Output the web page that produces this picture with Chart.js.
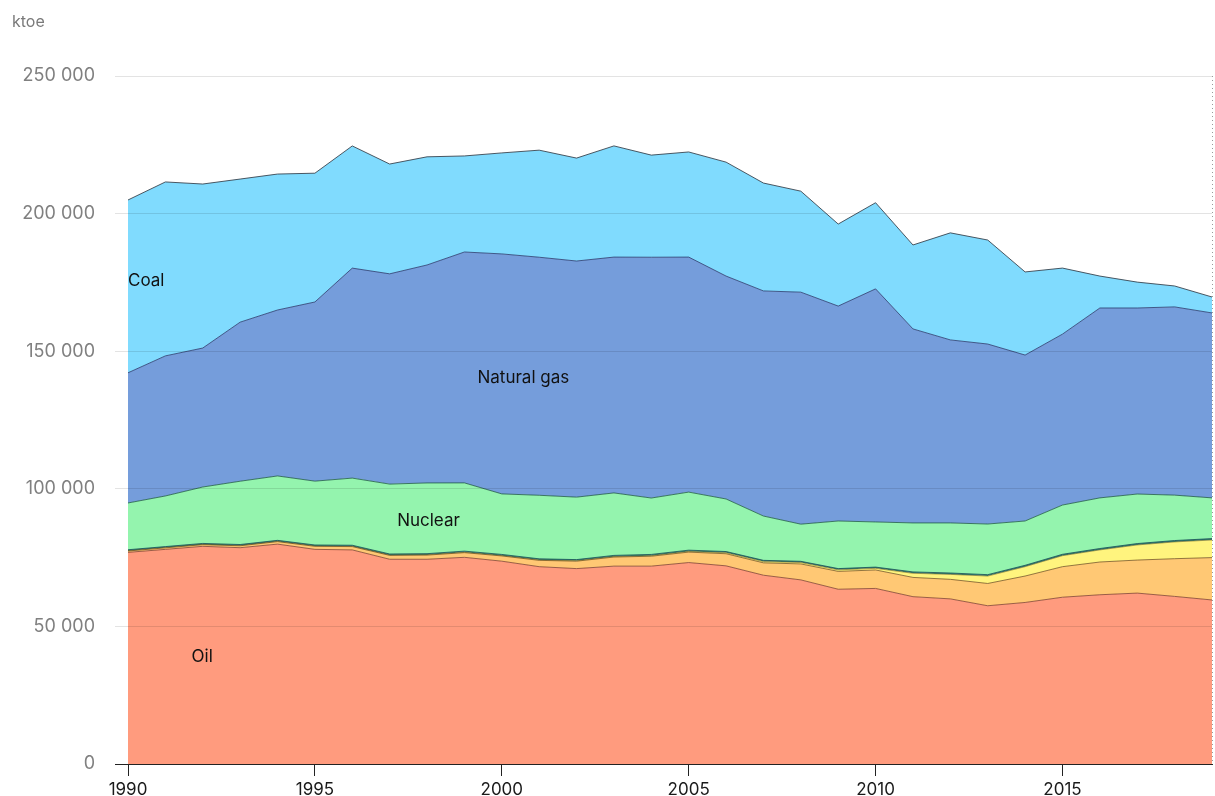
<!DOCTYPE html>
<html>
<head>
<meta charset="utf-8">
<script src="https://cdn.jsdelivr.net/npm/chart.js@4.4.1/dist/chart.umd.min.js"></script>
<style>
  html, body { margin: 0; padding: 0; background: #ffffff; }
  #wrap { width: 1215px; height: 796px; position: relative; }
</style>
</head>
<body>
<div id="wrap"><canvas id="c" width="1215" height="796"></canvas></div>
<script>
const years = [1990,1991,1992,1993,1994,1995,1996,1997,1998,1999,2000,2001,2002,2003,2004,2005,2006,2007,2008,2009,2010,2011,2012,2013,2014,2015,2016,2017,2018,2019];
const oil = [76900,78000,79100,78600,79900,78000,77800,74400,74400,75100,73700,71700,71000,71900,71900,73200,72000,68600,66900,63500,63800,60800,60000,57500,58700,60600,61500,62100,60900,59600];
const biofuels = [500,550,600,700,900,1100,1200,1400,1500,1700,1900,2300,2700,3300,3600,3800,4400,4500,5800,6500,6700,7000,7100,8100,9600,11100,11900,12000,13700,15400];
const windSolar = [0,0,0,0,20,30,40,60,80,100,100,100,120,150,200,250,350,450,500,550,600,1500,1800,2700,3400,4000,4400,5500,6100,6400];
const hydro = [450,450,450,450,450,450,450,450,450,450,450,450,450,450,450,450,450,450,450,450,450,500,500,500,500,500,500,500,500,500];
const nuclear = [17000,18400,20500,23000,23400,23200,24400,25400,25700,24800,22000,23100,22700,22700,20500,21100,19100,16100,13500,17300,16400,17800,18200,18400,16100,17900,18400,18000,16500,14800];
const naturalGas = [47300,50900,50500,57800,60300,65100,76300,76400,79200,83900,87200,86500,85800,85700,87500,85400,81000,81800,84300,78100,84700,70500,66500,65400,60300,62100,69000,67600,68400,67200];
const coal = [62800,63200,59600,52000,49400,46800,44400,39900,39300,34900,36700,38900,37400,40400,37100,38200,41400,39200,36700,29800,31300,30500,38900,37800,30200,24000,11600,9400,7600,5800];
const yTicks = [0,50000,100000,150000,200000,250000];
const xTicks = [1990,1995,2000,2005,2010,2015];
const unitLabel = 'ktoe';
const areaLabels = [
  { text: 'Coal', x: 1990, y: 175500 },
  { text: 'Natural gas', x: 1999.35, y: 140300 },
  { text: 'Nuclear', x: 1997.2, y: 88300 },
  { text: 'Oil', x: 1991.7, y: 38900 }
];

const series = [
  { label: 'Oil', data: oil, bg: '#ff9b7e', border: 'rgba(120,60,40,0.75)' },
  { label: 'Biofuels and waste', data: biofuels, bg: '#ffc874', border: 'rgba(110,80,30,0.75)' },
  { label: 'Wind, solar, etc.', data: windSolar, bg: '#fff47e', border: 'rgba(110,100,30,0.6)' },
  { label: 'Hydro', data: hydro, bg: '#2e7f7a', border: 'rgba(20,80,80,0.8)' },
  { label: 'Nuclear', data: nuclear, bg: '#94f4ae', border: 'rgba(30,90,70,0.8)' },
  { label: 'Natural gas', data: naturalGas, bg: '#759ddb', border: 'rgba(40,60,110,0.8)' },
  { label: 'Coal', data: coal, bg: '#80dbfe', border: 'rgba(50,60,70,0.85)' }
];

const labelPlugin = {
  id: 'labels',
  afterDatasetsDraw(chart) {
    const { ctx, scales: { x, y }, chartArea } = chart;
    ctx.save();
    ctx.font = '17px Inter, "Noto Sans", sans-serif';
    ctx.fillStyle = '#111';
    ctx.textAlign = 'left';
    ctx.textBaseline = 'middle';
    areaLabels.forEach(l => ctx.fillText(l.text, x.getPixelForValue(l.x), y.getPixelForValue(l.y)));
    const px = Math.round(x.getPixelForValue(years[years.length - 1])) + 0.5;
    ctx.strokeStyle = '#9a9a9a';
    ctx.lineWidth = 1;
    ctx.setLineDash([1, 3]);
    ctx.beginPath();
    ctx.moveTo(px, chartArea.top);
    ctx.lineTo(px, chartArea.bottom);
    ctx.stroke();
    ctx.setLineDash([]);
    ctx.font = '16px Inter, "Noto Sans", sans-serif';
    ctx.fillStyle = '#7a7a7a';
    ctx.textBaseline = 'middle';
    ctx.fillText(unitLabel, 12, 22);
    ctx.restore();
  }
};

new Chart(document.getElementById('c'), {
  type: 'line',
  data: {
    labels: years,
    datasets: series.map((s, i) => ({
      label: s.label,
      data: years.map((yr, j) => ({ x: yr, y: s.data[j] })),
      backgroundColor: s.bg,
      borderColor: s.border,
      borderWidth: 1,
      pointRadius: 0,
      tension: 0,
      fill: i === 0 ? 'origin' : '-1'
    }))
  },
  options: {
    responsive: false,
    animation: false,
    layout: { padding: { left: 0, right: 3, top: 76, bottom: 0 } },
    plugins: { legend: { display: false }, tooltip: { enabled: false } },
    scales: {
      x: {
        type: 'linear',
        min: 1990,
        max: 2019,
        afterBuildTicks: s => { s.ticks = xTicks.map(v => ({ value: v })); },
        afterFit: s => { s.height = 32; },
        ticks: {
          includeBounds: false,
          padding: 4,
          color: '#1a1a1a',
          font: { family: 'Inter, "Noto Sans", sans-serif', size: 17 },
          callback: v => String(v),
          maxRotation: 0
        },
        grid: { drawOnChartArea: false, drawTicks: true, tickLength: 12, color: '#222', lineWidth: 1 },
        border: { display: true, color: '#222', width: 1 }
      },
      y: {
        stacked: true,
        min: 0,
        max: 250000,
        afterBuildTicks: s => { s.ticks = yTicks.map(v => ({ value: v })); },
        afterFit: s => { s.width = 128; },
        ticks: {
          padding: 20,
          color: '#808080',
          font: { family: 'Inter, "Noto Sans", sans-serif', size: 18 },
          callback: v => String(v).replace(/\B(?=(\d{3})+(?!\d))/g, ' ')
        },
        grid: {
          z: 1,
          tickLength: 13,
          color: ctx => ctx.tick && ctx.tick.value === 0 ? '#222' : 'rgba(0,0,0,0.11)',
          lineWidth: 1
        },
        border: { display: false }
      }
    }
  },
  plugins: [labelPlugin]
});
</script>
</body>
</html>
